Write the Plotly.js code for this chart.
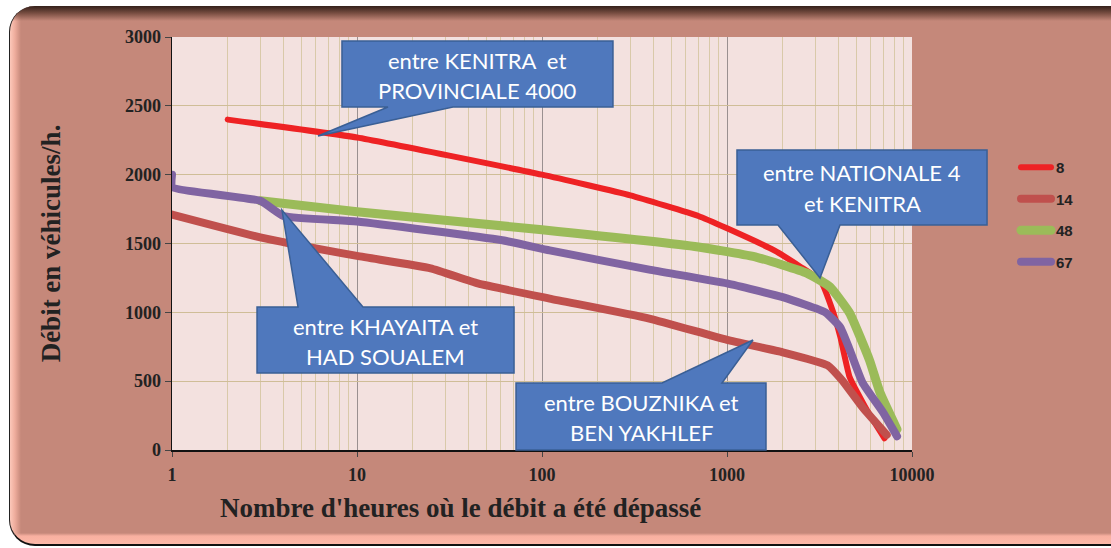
<!DOCTYPE html>
<html>
<head>
<meta charset="utf-8">
<script src="https://cdn.plot.ly/plotly-3.0.1.min.js"></script>
<style>
  html, body { margin: 0; padding: 0; background: #ffffff; }
  #wrap { position: relative; width: 1111px; height: 548px; overflow: hidden; background: #ffffff; }
  #frame {
    position: absolute; left: 9px; top: 6px; width: 1120px; height: 538px;
    border-left: 1px solid #222; border-bottom: 2px solid #111;
    border-top-left-radius: 26px; border-bottom-left-radius: 26px;
    background:
      linear-gradient(to bottom, rgba(52,32,26,1) 0px, rgba(110,70,58,0.9) 7px, rgba(197,136,122,0) 15px),
      linear-gradient(to top, rgba(252,184,168,1) 0px, rgba(248,176,160,1) 8px, rgba(197,136,122,0) 11px),
      linear-gradient(to right, rgba(252,200,186,1) 0px, rgba(238,172,156,1) 5px, rgba(197,136,122,0) 11px),
      #c5887a;
  }
  #chart { position: absolute; left: 0; top: 0; width: 1111px; height: 548px; }
  #chart .js-line { stroke-linecap: round; stroke-linejoin: round; }
</style>
</head>
<body>
<div id="wrap">
  <div id="frame"></div>
  <div id="chart"></div>
</div>
<script>
// ---- data ----
const seriesNames = ["8", "14", "48", "67"];
const seriesColors = ["#ee2224", "#c0504d", "#9bbb59", "#8064a2"];
const seriesWidths = [6, 8, 9, 8];

const hours8  = [2, 10, 100, 300, 700, 1000, 1800, 2500, 3200, 3750, 4100, 4600, 5700, 7100];
const debit8  = [2400, 2270, 2000, 1850, 1700, 1610, 1450, 1330, 1230, 1000, 820, 530, 290, 85];

const hours14 = [1, 3, 10, 25, 45, 110, 380, 1000, 2000, 3500, 4200, 5400, 7300];
const debit14 = [1710, 1545, 1410, 1320, 1210, 1100, 955, 800, 710, 615, 505, 310, 110];

const hours48 = [3, 10, 100, 700, 1450, 2700, 3600, 4600, 5900, 6700, 8300];
const debit48 = [1810, 1730, 1600, 1475, 1400, 1285, 1185, 995, 650, 420, 150];

const hours67 = [1, 1, 3, 4, 10, 60, 110, 380, 1000, 2000, 3400, 4100, 4600, 5400, 7000, 8300];
const debit67 = [2000, 1910, 1810, 1700, 1660, 1525, 1450, 1310, 1210, 1110, 1000, 890, 730, 490, 270, 100];

const xTickVals = [1, 10, 100, 1000, 10000];
const xTickText = ["1", "10", "100", "1000", "10000"];
const minorVals = [];
for (const d of [1, 10, 100, 1000]) for (let k = 2; k <= 9; k++) minorVals.push(k * d);

const calloutLines = [
  ["entre KENITRA  et", "PROVINCIALE 4000"],
  ["entre NATIONALE 4", "et KENITRA"],
  ["entre KHAYAITA et", "HAD SOUALEM"],
  ["entre BOUZNIKA et", "BEN YAKHLEF"]
];

// ---- layout geometry (pixels of the 1111x548 page) ----
const L = 172, R = 912, T = 37, B = 450;
const px = v => (v - L) / (R - L);
const py = v => (B - v) / (B - T);

// callout outlines in page pixels (box + pointer)
const calloutPolys = [
  [[342,41],[613,41],[613,107],[453,107],[318,136],[388,107],[342,107]],
  [[737,150],[987,150],[987,225],[840,225],[820,278],[778,225],[737,225]],
  [[257,307],[298,307],[282,210],[363,307],[514,307],[514,373],[257,373]],
  [[516,383],[662,383],[753,340],[722,383],[766,383],[766,450],[516,450]]
];
const calloutTextPos = [
  [477, 60, 90],
  [862, 172, 203],
  [385, 326, 356],
  [641, 402, 432]
];

const xs = [hours8, hours14, hours48, hours67];
const ys = [debit8, debit14, debit48, debit67];

const traces = seriesNames.map((n, i) => ({
  x: xs[i], y: ys[i], name: n, type: "scatter", mode: "lines",
  legendgroup: "g" + i,
  line: { color: seriesColors[i], width: seriesWidths[i], shape: "spline", smoothing: 0.4 }
}));

const shapes = calloutPolys.map(poly => ({
  type: "path", xref: "paper", yref: "paper", layer: "above",
  path: poly.map((p, j) => (j ? "L" : "M") + px(p[0]).toFixed(4) + "," + py(p[1]).toFixed(4)).join("") + "Z",
  fillcolor: "#4f78bd", line: { color: "#3a5f95", width: 1.5 }
}));

const annotations = [];
calloutLines.forEach((lines, i) => {
  const [cx, y1, y2] = calloutTextPos[i];
  [y1, y2].forEach((yy, k) => annotations.push({
    xref: "paper", yref: "paper", x: px(cx), y: py(yy), xanchor: "center", yanchor: "middle",
    text: lines[k], showarrow: false,
    font: { family: "Lato, 'Open Sans', sans-serif", size: 22, color: "#ffffff" }
  }));
});
annotations.push({
  xref: "paper", yref: "paper", x: px(460), y: py(508), xanchor: "center", yanchor: "middle",
  text: "Nombre d'heures où le débit a été dépassé", showarrow: false,
  font: { family: "'Liberation Serif', 'DejaVu Serif', serif", size: 27, color: "#222222", weight: "bold" }
});

const layout = {
  width: 1111, height: 548,
  margin: { l: L, r: 1111 - R, t: T, b: 548 - B, pad: 0 },
  paper_bgcolor: "rgba(0,0,0,0)",
  plot_bgcolor: "#f3e1df",
  showlegend: true,
  legend: {
    x: px(1016), y: py(151), xanchor: "left", yanchor: "top",
    bgcolor: "rgba(0,0,0,0)", tracegroupgap: 9,
    font: { family: "'Liberation Sans', Arial, sans-serif", size: 15, color: "#222222", weight: "bold" }
  },
  xaxis: {
    type: "log", range: [0, 4],
    tickmode: "array", tickvals: xTickVals, ticktext: xTickText,
    ticks: "outside", ticklen: 5, tickcolor: "#444", ticklabelstandoff: 3,
    showline: true, linecolor: "#111", linewidth: 1.5,
    showgrid: true, gridcolor: "#9a9090", gridwidth: 1,
    minor: { tickmode: "array", tickvals: minorVals, showgrid: true, gridcolor: "#d9c9a9", gridwidth: 1, ticks: "" },
    tickfont: { family: "'Liberation Serif', serif", size: 18, color: "#222222", weight: "bold" },
    zeroline: false, fixedrange: true
  },
  yaxis: {
    range: [0, 3000], dtick: 500, tick0: 0,
    ticks: "outside", ticklen: 6, tickcolor: "#444",
    showline: true, linecolor: "#111", linewidth: 1.5,
    showgrid: true, gridcolor: "#cfbd97", gridwidth: 1,
    tickfont: { family: "'Liberation Serif', serif", size: 18, color: "#222222", weight: "bold" },
    title: { text: "Débit en véhicules/h.", standoff: 56,
      font: { family: "'Liberation Serif', serif", size: 27, color: "#222222", weight: "bold" } },
    zeroline: false, fixedrange: true
  },
  shapes: shapes,
  annotations: annotations
};

Plotly.newPlot("chart", traces, layout, { displayModeBar: false, staticPlot: true });
</script>
</body>
</html>
